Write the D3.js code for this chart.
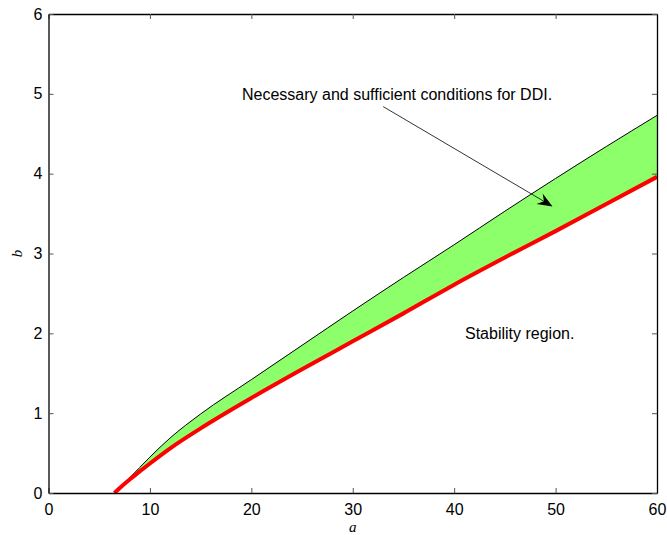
<!DOCTYPE html>
<html>
<head>
<meta charset="UTF-8"/>
<title>DDI region</title>
<script src="https://cdnjs.cloudflare.com/ajax/libs/d3/7.8.5/d3.min.js"></script>
<style>
  body { margin: 0; background: #fff; }
  svg { display: block; }
  text { font-family: 'Liberation Sans', Arial, sans-serif; fill: #000; }
  .tick-label { font-size: 16px; }
  .note { font-size: 16px; }
  .axis-title { font-family: 'Liberation Serif', 'DejaVu Serif', serif; font-style: italic; font-size: 15px; }
</style>
</head>
<body>
<svg id="chart" width="667" height="535"></svg>
<script>
// values
const aValues = [6.5, 7, 8, 9, 10, 12, 15, 20, 25, 30, 35, 40, 45, 50, 55, 60];
const bUpper  = [0, 0.06, 0.19, 0.32, 0.45, 0.69, 0.99, 1.42, 1.85, 2.28, 2.70, 3.11, 3.53, 3.94, 4.34, 4.73];
const bLower  = [0, 0.06, 0.17, 0.27, 0.37, 0.56, 0.81, 1.19, 1.55, 1.90, 2.25, 2.61, 2.95, 3.28, 3.62, 3.96];
const xTicks = [0, 10, 20, 30, 40, 50, 60];
const yTicks = [0, 1, 2, 3, 4, 5, 6];
const noteText = 'Necessary and sufficient conditions for DDI.';
const stabText = 'Stability region.';
// arrow from under the note to inside the band (data units)
const arrowFrom = [33.0, 4.84];
const arrowTo = [49.7, 3.59];

const svg = d3.select('#chart');
const mLeft = 48.5, mRight = 657, mTop = 14, mBottom = 493;

const x = d3.scaleLinear().domain([0, 60]).range([mLeft, mRight]);
const y = d3.scaleLinear().domain([0, 6]).range([mBottom, mTop]);

const pts = aValues.map((a, i) => ({a: a, hi: bUpper[i], lo: bLower[i]}));

svg.append('defs').append('clipPath').attr('id', 'plotclip')
  .append('rect')
  .attr('x', mLeft).attr('y', mTop)
  .attr('width', mRight - mLeft).attr('height', mBottom - mTop);

const plot = svg.append('g').attr('clip-path', 'url(#plotclip)');

plot.append('path')
  .datum(pts)
  .attr('fill', '#8cff6a')
  .attr('d', d3.area()
    .x(d => x(d.a))
    .y0(d => y(d.lo))
    .y1(d => y(d.hi))
    .curve(d3.curveMonotoneX));

plot.append('path')
  .datum(pts)
  .attr('fill', 'none')
  .attr('stroke', '#000')
  .attr('stroke-width', 1)
  .attr('d', d3.line().x(d => x(d.a)).y(d => y(d.hi)).curve(d3.curveMonotoneX));

plot.append('path')
  .datum(pts)
  .attr('fill', 'none')
  .attr('stroke', '#ff0000')
  .attr('stroke-width', 4)
  .attr('d', d3.line().x(d => x(d.a)).y(d => y(d.lo)).curve(d3.curveMonotoneX));

// axes, MATLAB style box with inward ticks on all sides
const tickLen = 5;
const axB = svg.append('g').attr('transform', `translate(0,${mBottom})`)
  .call(d3.axisBottom(x).tickValues(xTicks).tickSizeInner(-tickLen).tickSizeOuter(0).tickPadding(11));
const axT = svg.append('g').attr('transform', `translate(0,${mTop})`)
  .call(d3.axisTop(x).tickValues(xTicks).tickSizeInner(-tickLen).tickSizeOuter(0).tickFormat(''));
const axL = svg.append('g').attr('transform', `translate(${mLeft},0)`)
  .call(d3.axisLeft(y).tickValues(yTicks).tickFormat(d3.format('d')).tickSizeInner(-tickLen).tickSizeOuter(0).tickPadding(6));
const axR = svg.append('g').attr('transform', `translate(${mRight},0)`)
  .call(d3.axisRight(y).tickValues(yTicks).tickSizeInner(-tickLen).tickSizeOuter(0).tickFormat(''));

[axB, axT, axL, axR].forEach(g => {
  g.select('.domain').attr('stroke', '#000').attr('stroke-width', 1.3);
  g.selectAll('.tick line').attr('stroke', '#555');
  g.selectAll('.tick text').attr('class', 'tick-label').attr('fill', '#000');
});
axB.selectAll('.tick text').attr('dy', '0.71em');

// axis titles
svg.append('text').attr('class', 'axis-title')
  .attr('x', (mLeft + mRight) / 2).attr('y', 532)
  .attr('text-anchor', 'middle').text('a');
svg.append('text').attr('class', 'axis-title')
  .attr('transform', `translate(22,${(mTop + mBottom) / 2}) rotate(-90)`)
  .attr('text-anchor', 'middle').text('b');

// annotations
svg.append('text').attr('class', 'note')
  .attr('x', 242).attr('y', 100).text(noteText);
svg.append('text').attr('class', 'note')
  .attr('x', 465).attr('y', 339).text(stabText);

const x1 = x(arrowFrom[0]), y1 = y(arrowFrom[1]);
const x2 = x(arrowTo[0]), y2 = y(arrowTo[1]);
const ang = Math.atan2(y2 - y1, x2 - x1);
const L = 15, W = 6, N = 10;
svg.append('line')
  .attr('x1', x1).attr('y1', y1)
  .attr('x2', x2 - N * Math.cos(ang)).attr('y2', y2 - N * Math.sin(ang))
  .attr('stroke', '#000').attr('stroke-width', 0.8);
const head = [[0, 0], [-L, -W], [-N, 0], [-L, W]]
  .map(([u, v]) => [x2 + u * Math.cos(ang) - v * Math.sin(ang), y2 + u * Math.sin(ang) + v * Math.cos(ang)]);
svg.append('path')
  .attr('d', 'M' + head.map(p => p.join(',')).join('L') + 'Z')
  .attr('fill', '#000');
</script>
</body>
</html>
